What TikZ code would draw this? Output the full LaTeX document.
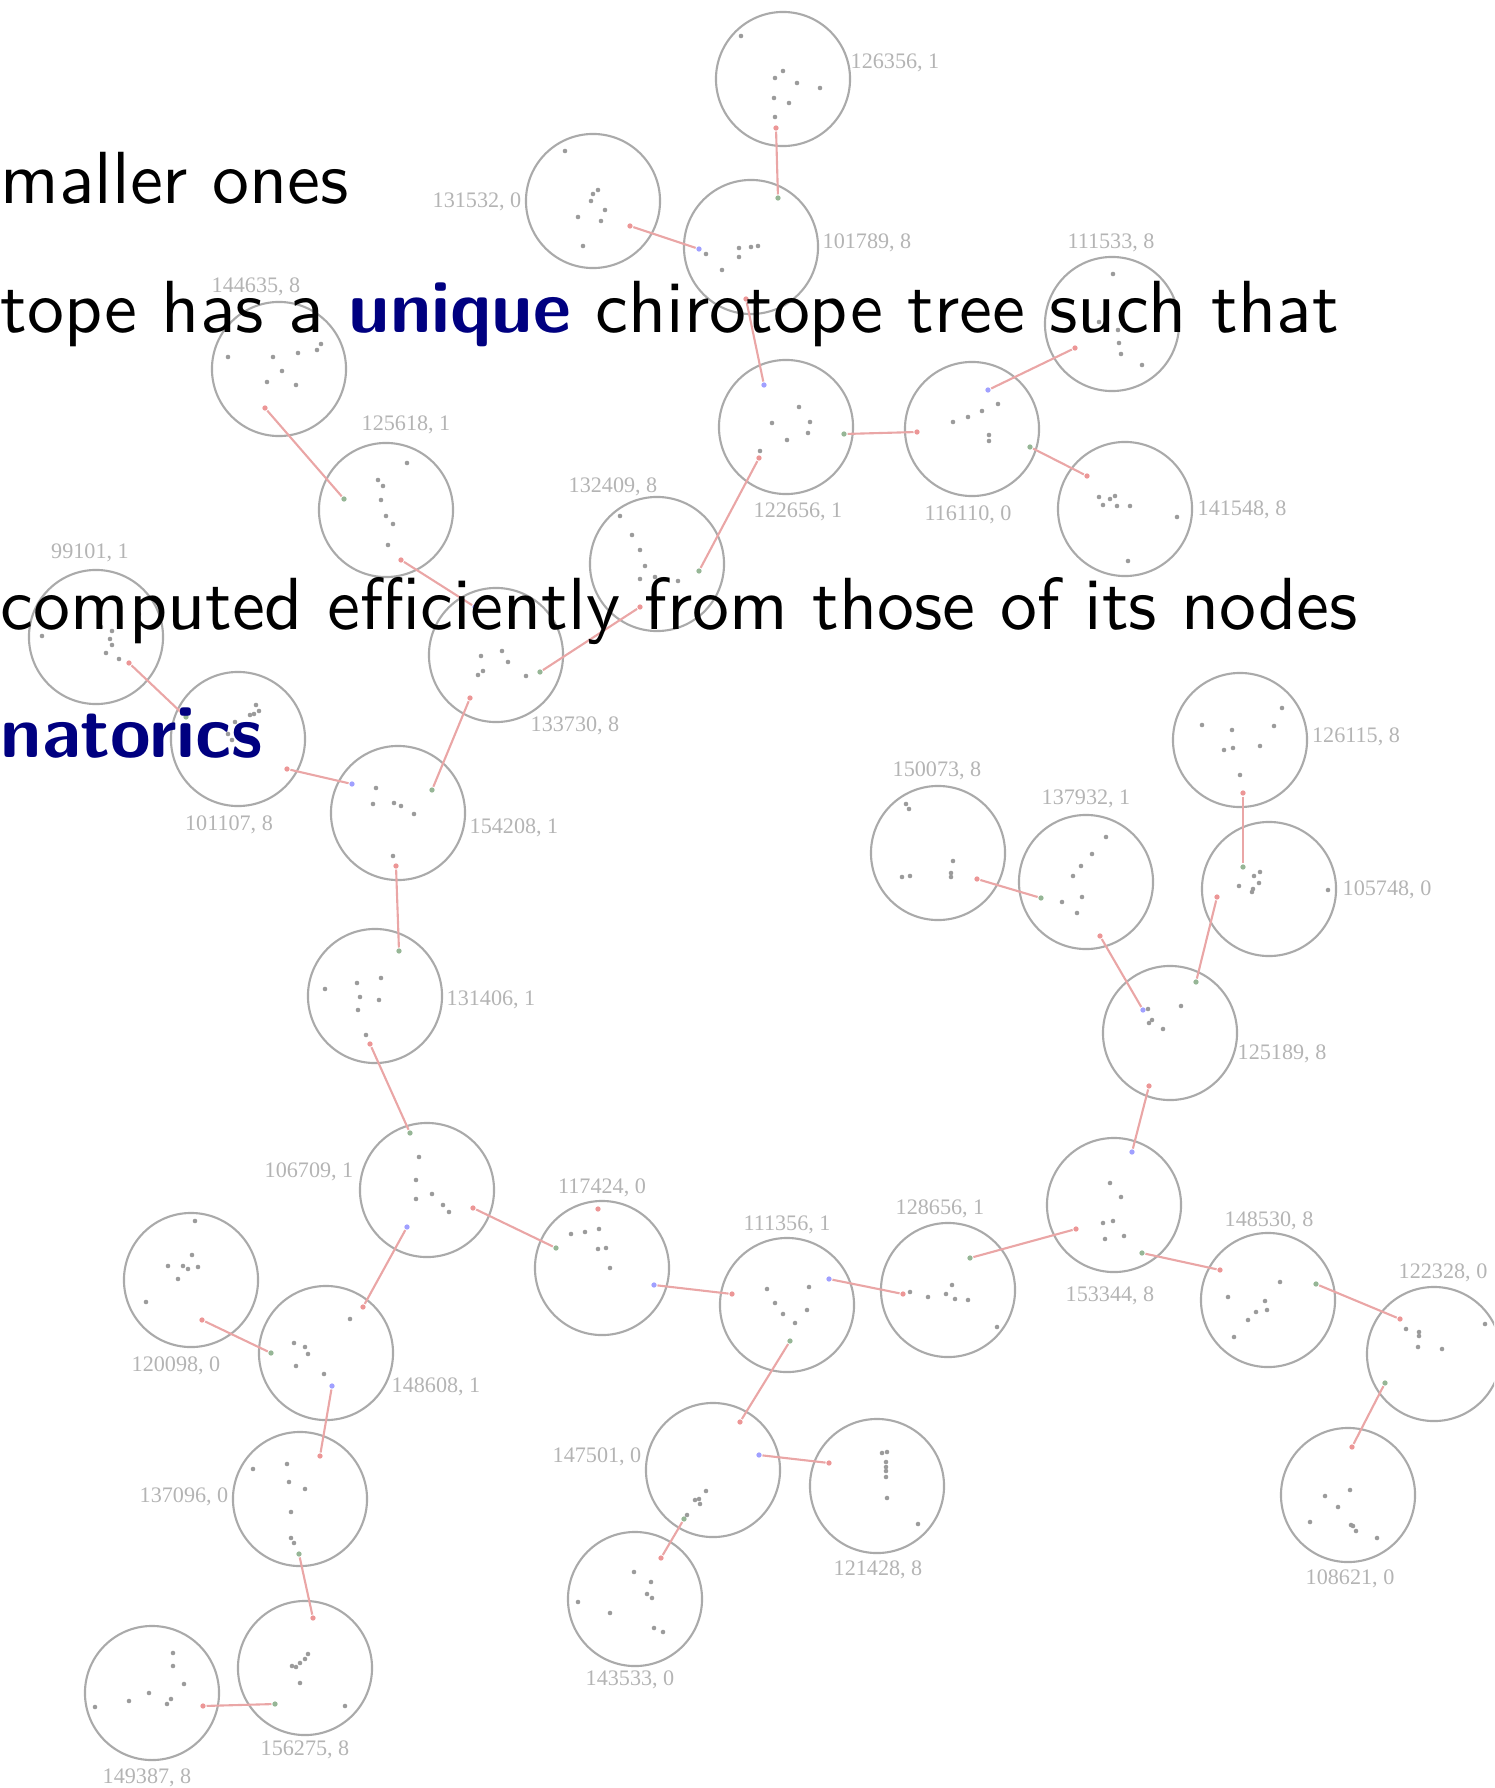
\documentclass[tikz,border=0pt]{standalone}
\usepackage{fontspec}
\newfontfamily\labfont{Liberation Serif}
\newfontfamily\slidefont{lmsans10-regular.otf}[BoldFont=lmsans10-bold.otf]
\usetikzlibrary{calc}
\definecolor{ringgray}{RGB}{170,170,170}
\definecolor{dotgray}{RGB}{155,155,155}
\definecolor{labgray}{RGB}{180,180,180}
\definecolor{linkred}{RGB}{234,166,166}
\definecolor{endred}{RGB}{236,150,150}
\definecolor{endblue}{RGB}{160,160,255}
\definecolor{endgreen}{RGB}{150,182,150}
\definecolor{myblue}{RGB}{0,0,128}

\tikzset{
  chiro/.style={circle, draw=ringgray, line width=0.6pt, minimum size=1.34cm, inner sep=0pt},
  lab/.style={font=\labfont\fontsize{6.3}{7}\selectfont, text=labgray, inner sep=0pt},
  pt/.style={fill=dotgray},
  link/.style={draw=linkred, line width=0.6pt, shorten <=1pt, shorten >=1pt},
  slide/.style={font=\slidefont\fontsize{21}{25}\selectfont, inner sep=0pt, anchor=base west},
}

% one chirotope: name, centre, label offset, label, points
\newcommand{\chirotope}[5]{%
  \node[chiro] (c#1) at (#2) {};
  \node[lab] (l#1) at ($(c#1)+(#3)$) {#4};
  \foreach \dx/\dy in {#5} {\fill[pt] ($(c#1)+(\dx,\dy)$) circle (0.65pt);}
}

\begin{document}
\begin{tikzpicture}[x=0.01cm, y=-0.01cm]
\useasboundingbox (0,0) rectangle (1494,1788);
\clip (0,0) rectangle (1494,1788);

% top part
\chirotope{126356}{783,79}{112,-16}{126356, 1}{-42/-43, 0/-8, -8/-1, 14/4, 37/9, -9/19, 6/24, -8/38}
\chirotope{131532}{593,201}{-116,1}{131532, 0}{-28/-50, 5/-11, 0/-7, -2/0, 12/9, -15/16, 8/20, -10/45}
\chirotope{101789}{751,247}{116,-4}{101789, 8}{-45/7, -12/1, 0/0, 7/-1, -12/10, -29/23}
\chirotope{111533}{1112,324}{-1,-81}{111533, 8}{1/-50, -13/-2, 6/6, 7/19, 9/30, 30/41}
\chirotope{144635}{279,369}{-23,-82}{144635, 8}{-51/-12, -6/-12, 19/-16, 38/-19, 42/-25, 3/2, -12/13, 17/16}
\chirotope{122656}{786,427}{12,85}{122656, 1}{13/-20, -14/-4, 24/-5, 22/6, 1/13, -26/24}
\chirotope{116110}{972,429}{-4,86}{116110, 0}{26/-25, 10/-18, -4/-12, -19/-7, 17/6, 17/12}
\chirotope{141548}{1125,509}{117,1}{141548, 8}{-26/-12, -15/-10, -10/-13, -22/-4, -8/-3, 5/-3, 52/8, 3/52}
\chirotope{125618}{386,510}{20,-85}{125618, 1}{21/-47, -8/-30, -3/-24, -5/-10, 0/6, 7/14, 2/35}
\chirotope{132409}{657,564}{-44,-77}{132409, 8}{-37/-48, -25/-29, -17/-14, -12/2, -17/15, -2/13, 21/17}
\chirotope{99101}{96,637}{-6,-84}{99101, 1}{-54/-1, 5/-10, 16/-6, 14/2, 16/8, 10/16, 23/22, 43/-23}
\chirotope{133730}{496,655}{79,71}{133730, 8}{-15/1, 6/-4, 12/7, -13/16, -18/20, 30/21}
\chirotope{101107}{238,739}{-9,86}{101107, 8}{18/-34, 21/-28, 16/-25, 12/-24, -3/-17, -10/-5, -6/1}
\chirotope{154208}{398,813}{116,15}{154208, 1}{-22/-25, -25/-9, -4/-10, 3/-7, 16/1, -5/43}
\chirotope{131406}{375,996}{116,4}{131406, 1}{6/-18, -18/-13, -50/-7, -15/1, 4/4, -17/14, -9/39}

% right part
\chirotope{150073}{938,853}{-1,-82}{150073, 8}{-32/-49, -29/-44, -36/24, -28/23, 15/8, 13/20, 13/24}
\chirotope{137932}{1086,882}{0,-83}{137932, 1}{20/-45, 6/-28, -5/-16, -13/-6, -4/15, -24/20, -9/31}
\chirotope{126115}{1240,740}{116,-3}{126115, 8}{42/-32, -38/-15, -8/-10, 34/-14, -16/10, -7/8, 20/6, 0/35}
\chirotope{105748}{1269,889}{118,1}{105748, 0}{-9/-17, -15/-13, -10/-6, -30/-3, -16/0, -17/3, 59/1}
\chirotope{125189}{1170,1033}{112,21}{125189, 8}{-22/-24, 11/-27, -18/-13, -21/-10, -7/-4}

% bottom part
\chirotope{106709}{427,1190}{-118,-18}{106709, 1}{-8/-33, -11/-10, -11/9, 5/4, 16/15, 22/22}
\chirotope{117424}{602,1268}{0,-80}{117424, 0}{-31/-34, -17/-36, -3/-39, -4/-19, 4/-20, 8/0}
\chirotope{153344}{1114,1205}{-4,91}{153344, 8}{-4/-22, 7/-8, -11/18, -1/16, -9/34, 10/31}
\chirotope{128656}{948,1290}{-8,-81}{128656, 1}{-38/2, -20/7, 4/-5, -2/4, 7/9, 20/10, 49/37}
\chirotope{111356}{787,1305}{0,-80}{111356, 1}{-20/-16, 22/-18, -12/-2, -4/9, 20/5, 8/18}
\chirotope{148530}{1268,1300}{1,-79}{148530, 8}{12/-18, -40/-3, -3/1, -1/10, -12/12, -20/20, -34/37}
\chirotope{122328}{1434,1354}{9,-81}{122328, 0}{-28/-25, -15/-22, -15/-18, -16/-7, 8/-5, 51/-30}
\chirotope{120098}{191,1280}{-15,86}{120098, 0}{4/-59, 1/-25, -23/-14, -8/-14, -3/-11, 7/-13, -13/-1, -45/22}
\chirotope{148608}{326,1353}{110,34}{148608, 1}{24/-34, -32/-10, -21/-6, -18/1, -30/13, -2/21}
\chirotope{147501}{713,1470}{-116,-13}{147501, 0}{-7/21, -18/30, -14/29, -13/34, -26/45}
\chirotope{121428}{877,1486}{1,84}{121428, 8}{5/-33, 10/-34, 9/-24, 9/-19, 9/-15, 9/-9, 10/12, 41/38}
\chirotope{137096}{300,1499}{-116,-2}{137096, 0}{-47/-30, -13/-35, -11/-17, 5/-10, -9/13, -9/39, -6/44}
\chirotope{108621}{1348,1495}{2,84}{108621, 0}{2/-5, -23/1, -10/12, -38/27, 3/30, 5/31, 8/36, 29/43}
\chirotope{143533}{635,1599}{-5,81}{143533, 0}{-1/-27, 16/-17, 12/-5, 17/-1, -57/3, -25/14, 19/29, 28/33}
\chirotope{156275}{305,1668}{0,82}{156275, 8}{3/-14, 0/-9, -5/-5, -9/-1, -13/-2, -5/15, 40/38}
\chirotope{149387}{152,1693}{-5,85}{149387, 8}{-57/14, -23/8, -3/0, 21/-40, 21/-27, 32/-9, 19/6, 15/11}

% end points of the links
\foreach \n/\dx/\dy in {126356/-7/49, 131532/37/25, 101789/-5/52, 111533/-37/24, 144635/-14/39,
    122656/-27/31, 116110/-55/3, 141548/-38/-33, 125618/15/50, 132409/-17/43, 99101/33/26,
    133730/-26/43, 101107/49/30, 154208/-2/53, 131406/-5/48, 150073/39/26, 137932/14/54,
    126115/3/53, 105748/-52/8, 125189/-21/53, 106709/46/18, 117424/-4/-59, 153344/-38/24,
    128656/-45/4, 111356/-55/-11, 148530/-48/-30, 122328/-34/-35, 120098/11/40, 148608/37/-46,
    147501/27/-48, 121428/-48/-23, 137096/20/-43, 108621/4/-48, 143533/26/-41, 156275/8/-50,
    149387/51/13} {
  \coordinate (r\n) at ($(c\n)+(\dx,\dy)$);
  \fill[endred] (r\n) circle (0.75pt);
}
\foreach \n/\dx/\dy in {101789/27/-49, 116110/58/18, 122656/58/7, 132409/42/7, 133730/44/17,
    125618/-42/-11, 154208/34/-23, 101107/-52/-22, 131406/24/-45, 106709/-17/-57, 117424/-46/-20,
    148608/-55/0, 137096/-1/55, 156275/-30/36, 111356/3/36, 147501/-29/49, 153344/28/48,
    128656/22/-32, 148530/48/-16, 122328/-49/29, 125189/26/-51, 137932/-45/16, 105748/-26/-22} {
  \coordinate (g\n) at ($(c\n)+(\dx,\dy)$);
  \fill[endgreen] (g\n) circle (0.75pt);
}
\foreach \n/\dx/\dy in {101789/-52/2, 122656/-22/-42, 116110/16/-39, 133730/-21/-48, 154208/-46/-29,
    106709/-20/37, 148608/6/33, 117424/52/17, 111356/42/-26, 147501/46/-15, 153344/18/-53,
    125189/-27/-23} {
  \coordinate (b\n) at ($(c\n)+(\dx,\dy)$);
  \fill[endblue] (b\n) circle (0.75pt);
}

% links
\foreach \a/\b in {r126356/g101789, r131532/b101789, r101789/b122656, r116110/g122656,
    r111533/b116110, r141548/g116110, r122656/g132409, r132409/g133730, r144635/g125618,
    r125618/b133730, r133730/g154208, r99101/g101107, r101107/b154208, r154208/g131406,
    r131406/g106709, r106709/g117424, r148608/b106709, r120098/g148608, r137096/b148608,
    r156275/g137096, r149387/g156275, r111356/b117424, r128656/b111356, r147501/g111356,
    r121428/b147501, r143533/g147501, r153344/g128656, r125189/b153344, r148530/g153344,
    r122328/g148530, r108621/g122328, r137932/b125189, r105748/g125189, r150073/g137932,
    r126115/g105748}
  \draw[link] (\a) -- (\b);

% slide text
\node[slide] (t1) at (0,203) {maller ones};
\node[slide] (t2) at (0,332) {tope has a \textcolor{myblue}{\bfseries unique} chirotope tree such that};
\node[slide] (t3) at (0,629) {computed efficiently from those of its nodes};
\node[slide, text=myblue, font=\slidefont\bfseries\fontsize{21}{25}\selectfont] (t4) at (0,757) {natorics};
\end{tikzpicture}
\end{document}
